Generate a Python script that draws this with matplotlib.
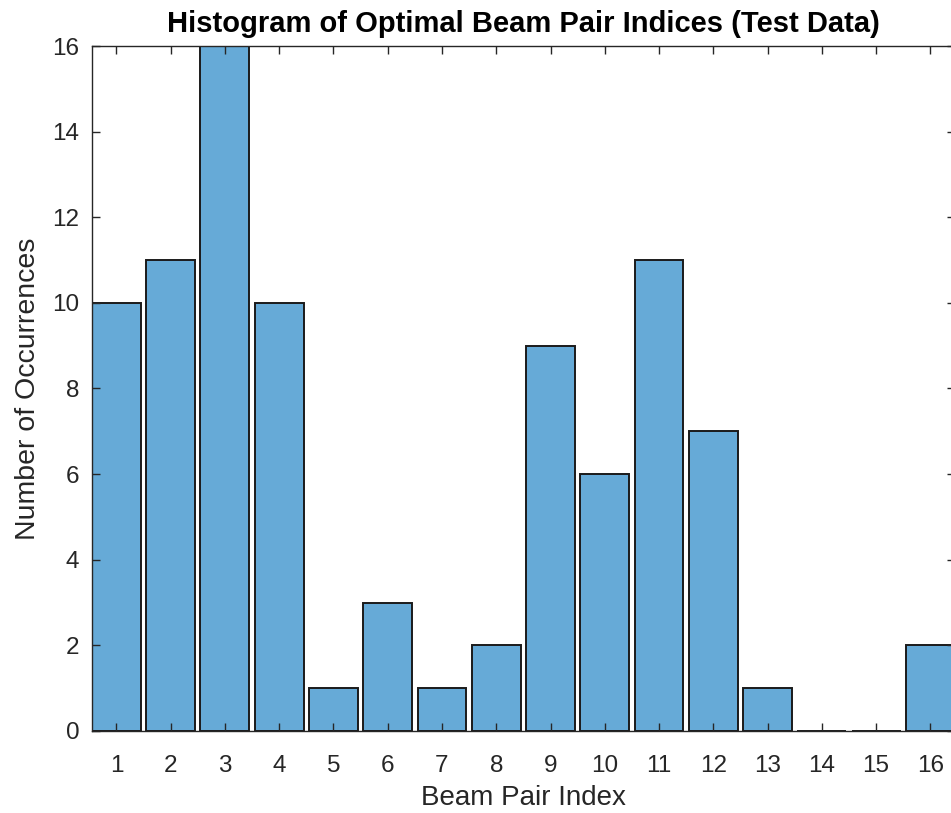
import numpy as np
import matplotlib.pyplot as plt

# beam pair index vs. number of occurrences
beam_idx = np.arange(1, 17)
counts = [10, 11, 16, 10, 1, 3, 1, 2, 9, 6, 11, 7, 1, 0, 0, 2]

plt.rcParams['font.family'] = ['Liberation Sans', 'DejaVu Sans']
ax_color = '#262626'
bar_color = (0.4, 0.668, 0.845)

fig = plt.figure(figsize=(9.51, 8.13), dpi=100)
ax = fig.add_axes([0.0967, 0.1009, 0.9073, 0.8425])

ax.bar(beam_idx, counts, width=0.9, color=bar_color, edgecolor='#1a1a1a', linewidth=1.4)

ax.set_xlim(0.55, 16.45)
ax.set_ylim(0, 16)
ax.set_xticks(beam_idx)
ax.set_yticks(np.arange(0, 17, 2))
ax.tick_params(direction='in', top=True, right=True, length=6, width=1,
               colors=ax_color, labelsize=17.5)
ax.tick_params(axis='x', pad=17)
ax.tick_params(axis='y', pad=9)
for s in ax.spines.values():
    s.set_color(ax_color)
    s.set_linewidth(1)

ax.set_xlabel('Beam Pair Index', fontsize=20, color=ax_color, labelpad=6)
ax.set_ylabel('Number of Occurrences', fontsize=20.5, color=ax_color, labelpad=8)
ax.set_title('Histogram of Optimal Beam Pair Indices (Test Data)', fontsize=21,
             fontweight='bold', color='black', pad=10)

fig.savefig('out.png', dpi=100)
